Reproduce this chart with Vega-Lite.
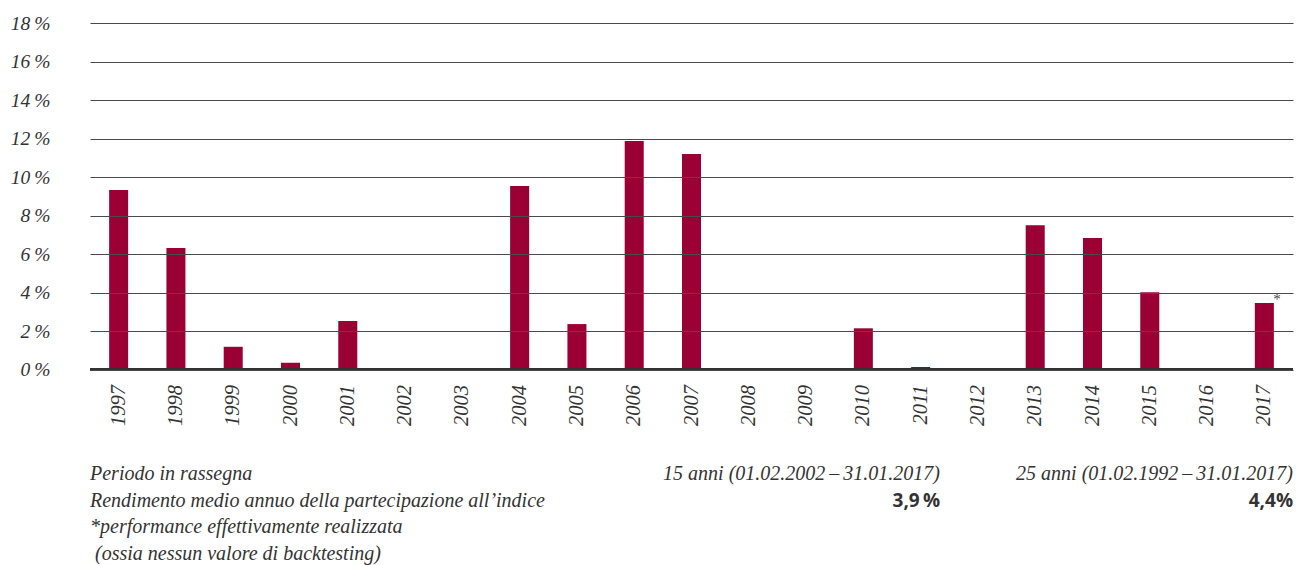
{
  "$schema": "https://vega.github.io/schema/vega-lite/v6.json",
  "autosize": "none",
  "width": 1203,
  "height": 346.5,
  "padding": {"left": 90, "top": 23, "right": 3, "bottom": 195.5},
  "background": "#ffffff",
  "config": {"view": {"stroke": null}},
  "datasets": {
    "bars": [
      {"year": "1997", "value": 9.32, "note": ""},
      {"year": "1998", "value": 6.31, "note": ""},
      {"year": "1999", "value": 1.18, "note": ""},
      {"year": "2000", "value": 0.35, "note": ""},
      {"year": "2001", "value": 2.52, "note": ""},
      {"year": "2002", "value": 0, "note": ""},
      {"year": "2003", "value": 0, "note": ""},
      {"year": "2004", "value": 9.53, "note": ""},
      {"year": "2005", "value": 2.36, "note": ""},
      {"year": "2006", "value": 11.87, "note": ""},
      {"year": "2007", "value": 11.2, "note": ""},
      {"year": "2008", "value": 0, "note": ""},
      {"year": "2009", "value": 0, "note": ""},
      {"year": "2010", "value": 2.14, "note": ""},
      {"year": "2011", "value": 0.13, "note": ""},
      {"year": "2012", "value": 0, "note": ""},
      {"year": "2013", "value": 7.5, "note": ""},
      {"year": "2014", "value": 6.83, "note": ""},
      {"year": "2015", "value": 4.01, "note": ""},
      {"year": "2016", "value": 0, "note": ""},
      {"year": "2017", "value": 3.45, "note": "*"}
    ],
    "footer": [
      {"line": 1, "col": 0, "kind": "note", "text": "Periodo in rassegna"},
      {"line": 2, "col": 0, "kind": "note", "text": "Rendimento medio annuo della partecipazione all’indice"},
      {"line": 3, "col": 0, "kind": "note", "text": "*performance effettivamente realizzata"},
      {"line": 4, "col": 0, "kind": "note", "text": "\u200b\u00a0(ossia nessun valore di backtesting)"},
      {"line": 1, "col": 1, "kind": "period", "text": "15 anni (01.02.2002\u2009–\u200931.01.2017)"},
      {"line": 1, "col": 2, "kind": "period", "text": "25 anni (01.02.1992\u2009–\u200931.01.2017)"},
      {"line": 2, "col": 1, "kind": "value", "text": "3,9\u2009%"},
      {"line": 2, "col": 2, "kind": "value", "text": "4,4%"}
    ]
  },
  "layer": [
    {
      "data": {"name": "bars"},
      "encoding": {
        "x": {
          "field": "year",
          "type": "nominal",
          "sort": null,
          "scale": {"paddingInner": 0.668, "paddingOuter": 0.334},
          "axis": {
            "title": null,
            "labelAngle": -90,
            "labelFont": "Liberation Serif",
            "labelFontStyle": "italic",
            "labelFontSize": 20.5,
            "labelColor": "#333333",
            "labelPadding": 15,
            "ticks": false,
            "tickSize": 0,
            "domain": false,
            "grid": false
          }
        },
        "y": {
          "field": "value",
          "type": "quantitative",
          "scale": {"domain": [0, 18], "nice": false, "zero": true},
          "axis": {
            "title": null,
            "values": [0, 2, 4, 6, 8, 10, 12, 14, 16, 18],
            "labelExpr": "datum.value + '\u2009%'",
            "labelFont": "Liberation Serif",
            "labelFontStyle": "italic",
            "labelFontSize": 19.5,
            "labelColor": "#333333",
            "labelPadding": 40,
            "ticks": false,
            "tickSize": 0,
            "domain": false,
            "grid": true,
            "gridColor": "#4a4a4a",
            "gridWidth": 1.2,
            "gridOpacity": 1,
            "zindex": 1
          }
        }
      },
      "layer": [
        {"mark": {"type": "bar", "color": "#9b0035"}},
        {
          "mark": {"type": "rule", "color": "#333333", "strokeWidth": 2.2},
          "encoding": {"x": null, "y": {"datum": 0, "type": "quantitative"}}
        },
        {
          "transform": [{"filter": "datum.note != ''"}],
          "mark": {"type": "text", "font": "Liberation Serif", "fontSize": 15, "color": "#444444", "align": "left", "baseline": "alphabetic", "dx": 9, "dy": 1},
          "encoding": {"text": {"field": "note"}}
        }
      ]
    },
    {
      "data": {"name": "footer"},
      "encoding": {
        "x": {
          "field": "col",
          "type": "quantitative",
          "scale": {"domain": [0, 1, 2], "range": [0, 850, 1203]},
          "axis": null
        },
        "y": {
          "field": "line",
          "type": "quantitative",
          "scale": {"domain": [1, 4], "range": [451, 531]},
          "axis": null
        },
        "text": {"field": "text"}
      },
      "layer": [
        {
          "transform": [{"filter": "datum.kind == 'note'"}],
          "mark": {"type": "text", "font": "Liberation Serif", "fontStyle": "italic", "fontSize": 20, "color": "#333333", "align": "left", "baseline": "middle"}
        },
        {
          "transform": [{"filter": "datum.kind == 'period'"}],
          "mark": {"type": "text", "font": "Liberation Serif", "fontStyle": "italic", "fontSize": 20, "color": "#333333", "align": "right", "baseline": "middle"}
        },
        {
          "transform": [{"filter": "datum.kind == 'value'"}],
          "mark": {"type": "text", "font": "Open Sans", "fontWeight": "bold", "fontSize": 19, "color": "#333333", "align": "right", "baseline": "middle"}
        }
      ]
    }
  ],
  "resolve": {"scale": {"x": "independent", "y": "independent"}}
}
